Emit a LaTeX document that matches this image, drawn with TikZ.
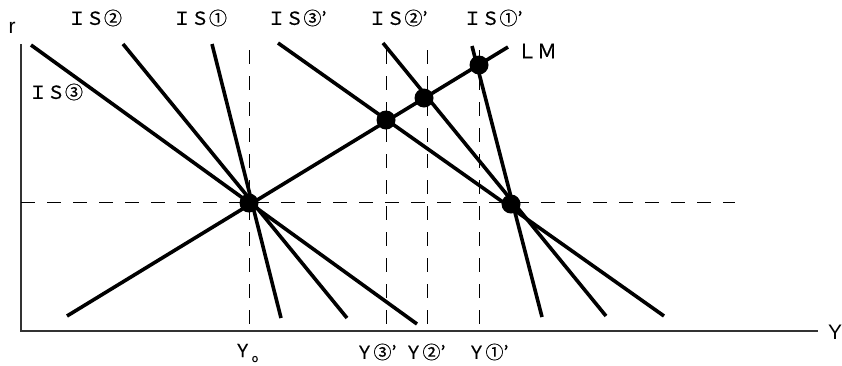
\documentclass[tikz,border=0pt]{standalone}
\usepackage{fontspec}
\setmainfont{Liberation Sans}
\newfontfamily\jpfont[FakeBold=0.5]{Noto Sans CJK JP}
\usepackage{tikz}
\tikzset{
  % IS / LM curves
  crv/.style={line width=3.6pt,line cap=butt},
  % guide lines
  gd/.style={line width=1pt,dash pattern=on 14pt off 12pt},
  % axes
  ax/.style={line width=1.4pt,black!80},
  % equilibrium points
  eq/.style={circle,fill=black,inner sep=0pt,minimum size=19pt},
  % labels
  lb/.style={font=\jpfont\fontsize{18}{18}\selectfont,inner sep=0pt},
  lt/.style={font=\fontsize{21}{21}\selectfont,inner sep=0pt}
}
\begin{document}
\begin{tikzpicture}[x=1pt,y=-1pt]
  \useasboundingbox (0,0) rectangle (842,365);

  %------ AXES ------
  \coordinate (rtop) at (21,44);
  \coordinate (O)    at (21,331);
  \coordinate (yend) at (818,331);
  \draw[ax] (rtop)--(O)--(yend);

  %------ GUIDES ------
  \coordinate (hL) at (21,202);   \coordinate (hR) at (735,202);
  \draw[gd] (hL)--(hR);
  \foreach \x in {249,386,427,479}
    \draw[gd] (\x,50)--(\x,331);

  %------ IS CURVES ------
  \coordinate (is3a)  at (31,45);   \coordinate (is3b)  at (417,324);
  \coordinate (is2a)  at (123,44);  \coordinate (is2b)  at (347,318);
  \coordinate (is1a)  at (212,44);  \coordinate (is1b)  at (281,318);
  \coordinate (is3pa) at (278,43);  \coordinate (is3pb) at (664,316);
  \coordinate (is2pa) at (383,43);  \coordinate (is2pb) at (606,316);
  \coordinate (is1pa) at (472,46);  \coordinate (is1pb) at (542,317);
  \draw[crv] (is3a)--(is3b);
  \draw[crv] (is2a)--(is2b);
  \draw[crv] (is1a)--(is1b);
  \draw[crv] (is3pa)--(is3pb);
  \draw[crv] (is2pa)--(is2pb);
  \draw[crv] (is1pa)--(is1pb);

  %------ LM CURVE ------
  \coordinate (lma) at (67,316);  \coordinate (lmb) at (508,47);
  \draw[crv] (lma)--(lmb);

  %------ EQUILIBRIA ------
  \node[eq] (E0)  at (249,203) {};
  \node[eq] (E3)  at (386,120) {};
  \node[eq] (E2)  at (424,98)  {};
  \node[eq] (E1)  at (479,65)  {};
  \node[eq] (Ep)  at (511,204) {};

  %------ LABELS ------
  \node[lt] (lr) at (12,28) {r};
  \node[lt] (lY) at (835,332) {Y};
  \node[lb] (lIS2)  at (95,18)  {ＩＳ②};
  \node[lb] (lIS1)  at (200,18) {ＩＳ①};
  \node[lb] (lIS3p) at (297,18) {ＩＳ③’};
  \node[lb] (lIS2p) at (398,18) {ＩＳ②’};
  \node[lb] (lIS1p) at (493,18) {ＩＳ①’};
  \node[lb] (lIS3)  at (56,92)  {ＩＳ③};
  \node[lb,font=\jpfont\fontsize{20}{20}\selectfont] (lLM) at (537,51) {ＬＭ};
  \node[lb] (lY0) at (246,353) {Ｙ\raisebox{-5pt}{\fontsize{11}{11}\selectfont o}};
  \node[lb] (lY3) at (376,352) {Ｙ③’};
  \node[lb] (lY2) at (425,352) {Ｙ②’};
  \node[lb] (lY1) at (488,352) {Ｙ①’};
\end{tikzpicture}
\end{document}
